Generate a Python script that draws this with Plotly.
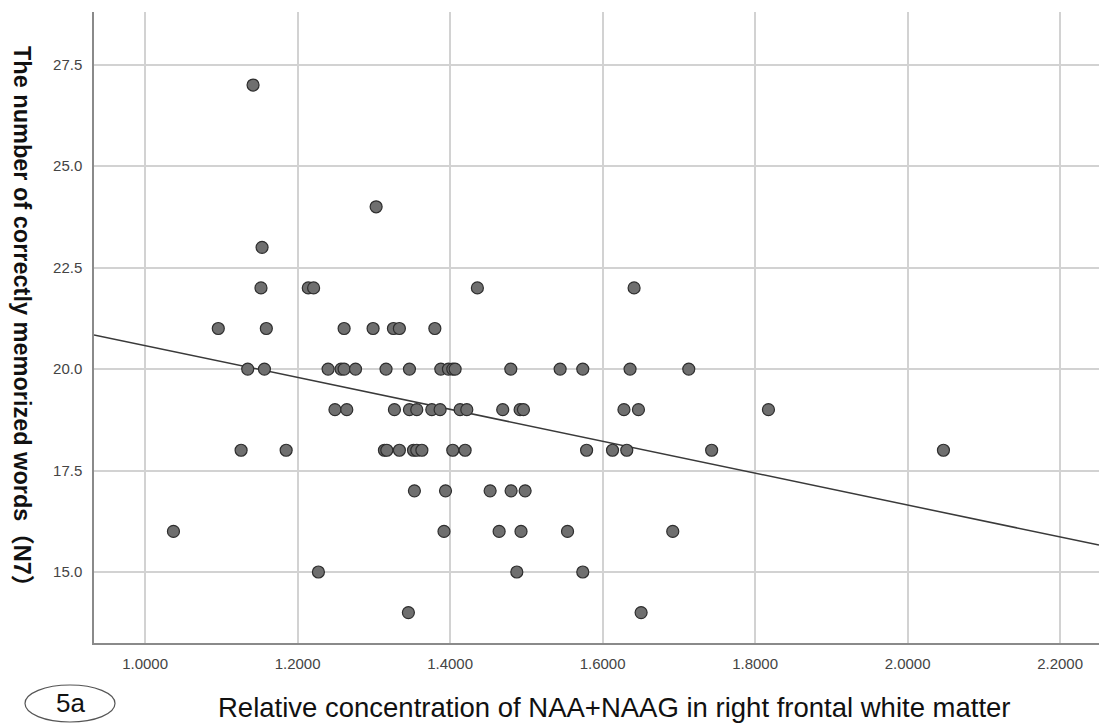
import plotly.graph_objects as go

# Data
x_vals = [
    1.1416,
    1.303,
    1.1534,
    1.152, 1.214, 1.221, 1.4358, 1.6413,
    1.096, 1.159, 1.261, 1.299, 1.3257, 1.3335, 1.380,
    1.1346, 1.1565, 1.240, 1.257, 1.261, 1.276, 1.316, 1.3467, 1.3878, 1.3978,
    1.4035, 1.4066, 1.4796, 1.5443, 1.574, 1.636, 1.713,
    1.249, 1.2645, 1.327, 1.3467, 1.3563, 1.376, 1.3869, 1.4131, 1.4219, 1.469,
    1.4918, 1.4962, 1.628, 1.647, 1.8175,
    1.1259, 1.185, 1.3139, 1.317, 1.3335, 1.352, 1.3563, 1.363, 1.4035, 1.4197,
    1.579, 1.613, 1.6317, 1.743, 2.047,
    1.3532, 1.394, 1.4525, 1.480, 1.4984,
    1.0372, 1.392, 1.4643, 1.493, 1.554, 1.692,
    1.2273, 1.4875, 1.574,
    1.3453, 1.6505,
]
y_vals = (
    [27]
    + [24]
    + [23]
    + [22] * 5
    + [21] * 7
    + [20] * 17
    + [19] * 15
    + [18] * 15
    + [17] * 5
    + [16] * 6
    + [15] * 3
    + [14] * 2
)

fit_intercept = 24.51
fit_slope = -3.93

x_range = [0.933, 2.251]
y_range = [13.25, 28.8]
x_ticks = [1.0, 1.2, 1.4, 1.6, 1.8, 2.0, 2.2]
y_ticks = [15.0, 17.5, 20.0, 22.5, 25.0, 27.5]

x_title = "Relative concentration of NAA+NAAG in right frontal white matter"
y_title = "The number of correctly memorized words（N7）"
panel_label = "5a"

fit_x = list(x_range)
fit_y = [fit_intercept + fit_slope * v for v in fit_x]

fig = go.Figure()
fig.add_trace(go.Scatter(
    x=fit_x, y=fit_y, mode="lines",
    line=dict(color="#3a3a3a", width=1.5),
    hoverinfo="skip", showlegend=False,
))
fig.add_trace(go.Scatter(
    x=x_vals, y=y_vals, mode="markers",
    marker=dict(size=12, color="#6f6f6f", line=dict(color="#2e2e2e", width=1.2)),
    showlegend=False,
))

W, H = 1099, 724
AX_L, AX_T, AX_B = 94, 12, 643  # plot area edges in page pixels
plot_w = W - AX_L
plot_h = AX_B - AX_T

def px(xp):
    return (xp - AX_L) / plot_w

def py(yp):
    return (AX_B - yp) / plot_h

fig.update_layout(
    width=W, height=H,
    margin=dict(l=AX_L, r=0, t=AX_T, b=H - AX_B),
    paper_bgcolor="white", plot_bgcolor="white",
    font=dict(family="Liberation Sans, Arial, sans-serif", color="#222"),
    xaxis=dict(
        range=x_range, tickvals=x_ticks, tickformat=".4f",
        showgrid=True, gridcolor="#d2d2d2", gridwidth=1.5,
        showline=True, linecolor="#8a8a8a", linewidth=1.5,
        zeroline=False, ticks="", ticklabelstandoff=6,
        tickfont=dict(size=15, color="#444"),
    ),
    yaxis=dict(
        range=y_range, tickvals=y_ticks, tickformat=".1f",
        showgrid=True, gridcolor="#d2d2d2", gridwidth=1.5,
        showline=True, linecolor="#8a8a8a", linewidth=1.5,
        zeroline=False, ticks="", ticklabelstandoff=7,
        tickfont=dict(size=15, color="#444"),
    ),
    annotations=[
        dict(text=x_title, xref="paper", yref="paper", x=px(614), y=py(707),
             showarrow=False, font=dict(size=27.5, color="#111"),
             xanchor="center", yanchor="middle"),
        dict(text="<b>" + y_title + "</b>", xref="paper", yref="paper",
             x=px(22), y=py(322), textangle=90, showarrow=False,
             font=dict(size=23.5, color="#111",
                       family="Liberation Sans, Arial, Noto Sans CJK SC, sans-serif"),
             xanchor="center", yanchor="middle"),
        dict(text=panel_label, xref="paper", yref="paper", x=px(70), y=py(703),
             showarrow=False, font=dict(size=26, color="#111"),
             xanchor="center", yanchor="middle"),
    ],
    shapes=[
        dict(type="circle", xref="paper", yref="paper",
             x0=px(25), x1=px(115), y0=py(722), y1=py(685),
             line=dict(color="#555", width=1.2)),
    ],
)

fig.write_html(
    "out.html",
    config={"displayModeBar": False},
    post_script="document.body.style.margin='0';document.body.style.overflow='hidden';",
)
